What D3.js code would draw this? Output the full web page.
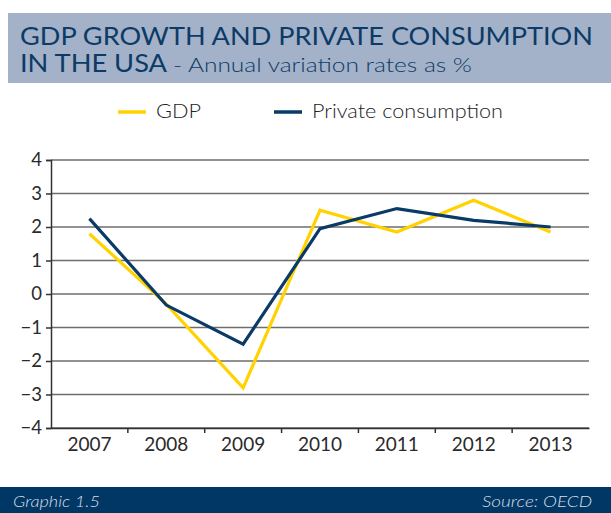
<!DOCTYPE html>
<html>
<head>
<meta charset="utf-8">
<script src="https://cdn.jsdelivr.net/npm/d3@7"></script>
<style>
  html, body { margin: 0; padding: 0; background: #fff; }
  svg { display: block; font-family: Lato, "Open Sans", sans-serif; }
</style>
</head>
<body>
<svg id="chart" width="611" height="513"></svg>
<script>
// Annual variation rates (%)
const years = ["2007", "2008", "2009", "2010", "2011", "2012", "2013"];
const gdp = [1.8, -0.3, -2.8, 2.5, 1.85, 2.8, 1.85];
const consumption = [2.25, -0.33, -1.5, 1.95, 2.55, 2.2, 2.0];
const yTicks = [4, 3, 2, 1, 0, -1, -2, -3, -4];
const seriesNames = ["GDP", "Private consumption"];
const seriesColors = ["#ffd200", "#0a3a66"];

const svg = d3.select("#chart");

// Title band
svg.append("rect").attr("x", 8).attr("y", 13).attr("width", 603).attr("height", 70).attr("fill", "#a3b1c9");
svg.append("text").attr("x", 20).attr("y", 45).attr("fill", "#0b3b66")
  .attr("font-size", 24.5).attr("textLength", 573).attr("lengthAdjust", "spacingAndGlyphs")
  .text("GDP GROWTH AND PRIVATE CONSUMPTION");
svg.append("text").attr("x", 20).attr("y", 72).attr("fill", "#0b3b66")
  .attr("font-size", 24.5).attr("textLength", 147).attr("lengthAdjust", "spacingAndGlyphs")
  .text("IN THE USA");
svg.append("text").attr("x", 173).attr("y", 72).attr("fill", "#0b3b66")
  .attr("font-size", 20).attr("font-weight", 300)
  .attr("textLength", 299).attr("lengthAdjust", "spacingAndGlyphs")
  .text("- Annual variation rates as %");

// Footer band
svg.append("rect").attr("x", 0).attr("y", 487).attr("width", 611).attr("height", 26).attr("fill", "#003764");
svg.append("text").attr("x", 13).attr("y", 507).attr("fill", "#d8dde6").attr("font-size", 16)
  .attr("font-style", "italic").attr("font-weight", 300)
  .attr("textLength", 87).attr("lengthAdjust", "spacingAndGlyphs").text("Graphic 1.5");
svg.append("text").attr("x", 482).attr("y", 507).attr("fill", "#d8dde6").attr("font-size", 16)
  .attr("font-style", "italic").attr("font-weight", 300)
  .attr("textLength", 110).attr("lengthAdjust", "spacingAndGlyphs").text("Source: OECD");

// Plot area
const plotLeft = 51, plotRight = 589, plotTop = 160, plotBottom = 428;
const x = d3.scaleBand().domain(years).range([plotLeft, plotRight]);
const y = d3.scaleLinear().domain([-4, 4]).range([plotBottom, plotTop]);

// Gridlines
svg.append("g").selectAll("line").data(yTicks).join("line")
  .attr("x1", plotLeft).attr("x2", plotRight)
  .attr("y1", d => y(d)).attr("y2", d => y(d))
  .attr("stroke", "#6e6e6e").attr("stroke-width", 1.5);

// Y axis
const yAxis = svg.append("g").attr("transform", `translate(${plotLeft},0)`)
  .call(d3.axisLeft(y).tickValues(yTicks).tickSize(5).tickPadding(4).tickFormat(d3.format("d")));
yAxis.select(".domain").attr("stroke", "#333").attr("stroke-width", 1.5);
yAxis.selectAll(".tick line").attr("stroke", "#333").attr("stroke-width", 1.5);
yAxis.selectAll("text").attr("font-size", 18.5).attr("fill", "#2a2a2a")
  .attr("font-family", "Lato, 'Open Sans', sans-serif");

// X axis with ticks at category boundaries
const xAxis = svg.append("g").attr("transform", `translate(0,${plotBottom})`)
  .call(d3.axisBottom(x).tickSize(0).tickPadding(10));
xAxis.select(".domain").attr("stroke", "#333").attr("stroke-width", 1.5);
xAxis.selectAll("text").attr("font-size", 19).attr("fill", "#2a2a2a")
  .attr("font-family", "Lato, 'Open Sans', sans-serif");
svg.append("g").selectAll("line").data(years.slice(1)).join("line")
  .attr("x1", d => x(d)).attr("x2", d => x(d))
  .attr("y1", plotBottom).attr("y2", plotBottom + 5)
  .attr("stroke", "#333").attr("stroke-width", 1.5);

// Lines
const line = d3.line().x((d, i) => x(years[i]) + x.bandwidth() / 2).y(d => y(d));
[gdp, consumption].forEach((vals, k) => {
  svg.append("path").datum(vals).attr("d", line)
    .attr("fill", "none").attr("stroke", seriesColors[k]).attr("stroke-width", 3.2)
    .attr("stroke-linejoin", "miter");
});

// Legend
const legendX = [118, 274];
const legendTextWidth = [45, 191];
seriesNames.forEach((name, k) => {
  svg.append("line").attr("x1", legendX[k]).attr("x2", legendX[k] + 28)
    .attr("y1", 112).attr("y2", 112).attr("stroke", seriesColors[k]).attr("stroke-width", 3.5);
  svg.append("text").attr("x", legendX[k] + 38).attr("y", 118).attr("font-size", 20)
    .attr("font-weight", 300).attr("fill", "#222")
    .attr("textLength", legendTextWidth[k]).attr("lengthAdjust", "spacingAndGlyphs")
    .text(name);
});
</script>
</body>
</html>
